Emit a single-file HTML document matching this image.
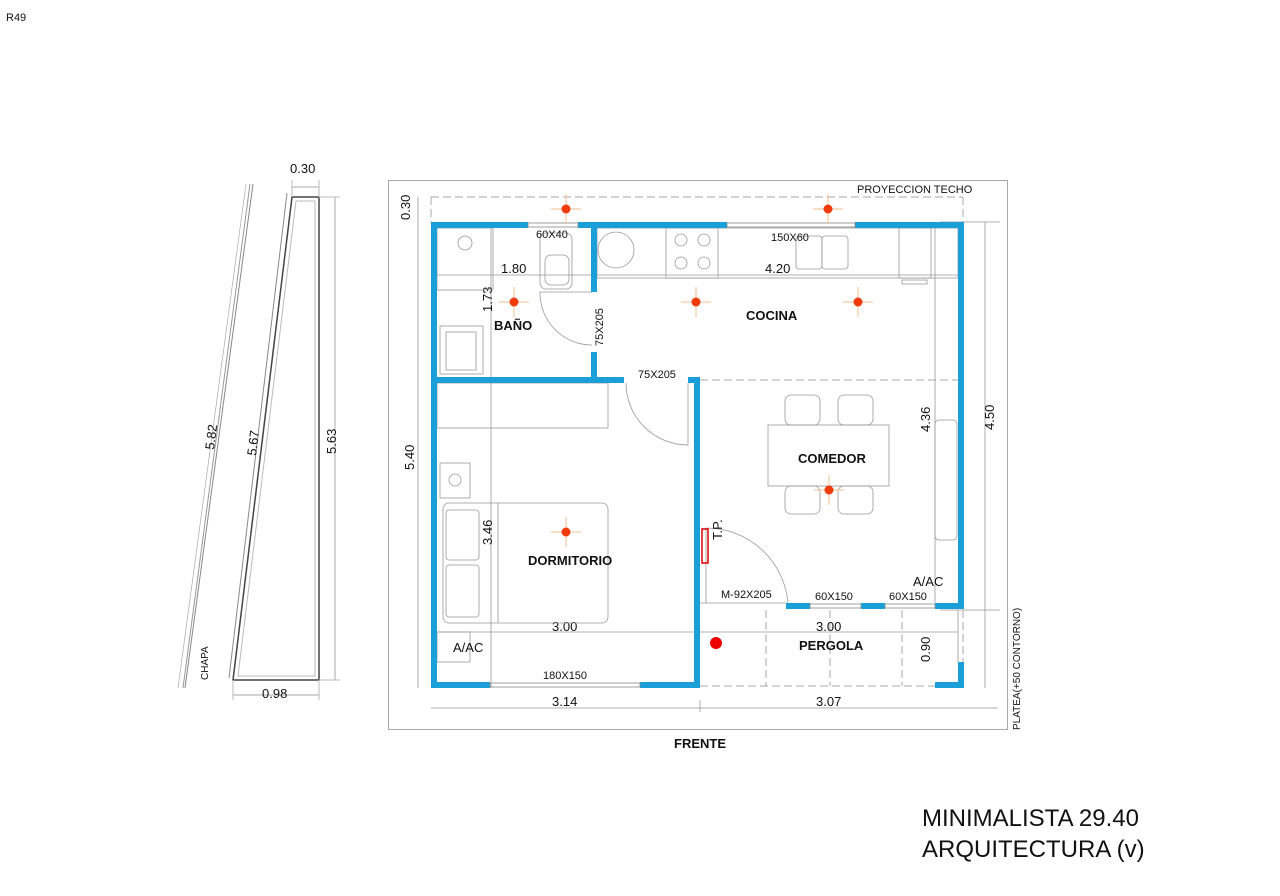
<!DOCTYPE html>
<html><head><meta charset="utf-8"><style>
html,body{margin:0;padding:0;background:#fff;width:1280px;height:896px;overflow:hidden}
svg{display:block}
text{font-family:"Liberation Sans","DejaVu Sans",sans-serif;fill:#111}
.b{font-weight:bold;font-size:13px}
.d{font-size:13px}
.s{font-size:11px}
</style></head><body>
<svg width="1280" height="896" viewBox="0 0 1280 896" xmlns="http://www.w3.org/2000/svg">
<text x="6" y="21" class="s">R49</text>

<!-- left elevation -->
<g stroke="#555" fill="none" stroke-width="1">
<line x1="253" y1="184" x2="185" y2="688" stroke="#888"/>
<line x1="250" y1="184" x2="183" y2="688" stroke="#999"/>
<line x1="246" y1="184" x2="178" y2="688" stroke="#aaa" stroke-width="0.7"/>
<line x1="287" y1="193" x2="229" y2="678" stroke="#888"/>
<polygon points="292,197 319,197 319,680 233,680" stroke="#444" stroke-width="1.5"/>
<polygon points="296,201 315,201 315,676 238,676" stroke="#bbb"/>
<line x1="292" y1="187" x2="319" y2="187" stroke="#aaa"/>
<line x1="292" y1="180" x2="292" y2="197" stroke="#bbb"/>
<line x1="319" y1="180" x2="319" y2="197" stroke="#bbb"/>
<line x1="335" y1="197" x2="335" y2="680" stroke="#aaa"/>
<line x1="319" y1="197" x2="340" y2="197" stroke="#bbb"/>
<line x1="319" y1="680" x2="340" y2="680" stroke="#bbb"/>
<line x1="233" y1="695" x2="319" y2="695" stroke="#aaa"/>
<line x1="233" y1="680" x2="233" y2="700" stroke="#bbb"/>
<line x1="319" y1="680" x2="319" y2="700" stroke="#bbb"/>
</g>
<text x="290" y="173" class="d">0.30</text>
<text x="262" y="698" class="d">0.98</text>
<text class="d" transform="translate(214,450) rotate(-83)">5.82</text>
<text class="d" transform="translate(256,456) rotate(-83)">5.67</text>
<text class="d" transform="translate(336,454) rotate(-90)">5.63</text>
<text style="font-size:10px" transform="translate(208,680) rotate(-90)">CHAPA</text>

<!-- outer frame -->
<rect x="388.5" y="180.5" width="619" height="549" fill="none" stroke="#aaa"/>
<text x="857" y="193" class="s">PROYECCION TECHO</text>
<text x="700" y="748" class="b" text-anchor="middle">FRENTE</text>
<text style="font-size:10px" transform="translate(1020,730) rotate(-90)">PLATEA(+50 CONTORNO)</text>

<!-- dashed roof projection -->
<g stroke="#aaa" fill="none" stroke-dasharray="8,4">
<line x1="431" y1="197" x2="963" y2="197"/>
<line x1="431" y1="197" x2="431" y2="222"/>
<line x1="963" y1="197" x2="963" y2="222"/>
<line x1="700" y1="380" x2="958" y2="380"/>
<line x1="700" y1="686" x2="935" y2="686"/>
<line x1="766" y1="610" x2="766" y2="686"/>
<line x1="830" y1="610" x2="830" y2="686"/>
<line x1="902" y1="610" x2="902" y2="686"/>
<line x1="963" y1="610" x2="963" y2="662"/>
</g>

<!-- dimension lines -->
<g stroke="#999" fill="none" stroke-width="0.8">
<line x1="418" y1="197" x2="418" y2="222"/>
<line x1="418" y1="222" x2="418" y2="688"/>
<line x1="431" y1="708" x2="998" y2="708"/>
<line x1="700" y1="700" x2="700" y2="712"/>
<line x1="985" y1="222" x2="985" y2="688"/>
<line x1="940" y1="222" x2="1000" y2="222"/>
<line x1="935" y1="228" x2="935" y2="603"/>
<line x1="437" y1="275" x2="597" y2="275"/>
<line x1="597" y1="275" x2="958" y2="275"/>
<line x1="491" y1="228" x2="491" y2="688"/>
<line x1="437" y1="632" x2="958" y2="632"/>
<line x1="958" y1="610" x2="958" y2="662"/>
<line x1="940" y1="610" x2="1000" y2="610"/>
</g>
<text class="d" transform="translate(410,220) rotate(-90)">0.30</text>
<text class="d" transform="translate(414,470) rotate(-90)">5.40</text>
<text class="d" transform="translate(994,430) rotate(-90)">4.50</text>
<text class="d" transform="translate(930,432) rotate(-90)">4.36</text>
<text class="d" transform="translate(492,312) rotate(-90)">1.73</text>
<text class="d" transform="translate(492,545) rotate(-90)">3.46</text>
<text class="d" transform="translate(930,662) rotate(-90)">0.90</text>
<text x="501" y="273" class="d">1.80</text>
<text x="765" y="273" class="d">4.20</text>
<text x="552" y="631" class="d">3.00</text>
<text x="816" y="631" class="d">3.00</text>
<text x="552" y="706" class="d">3.14</text>
<text x="816" y="706" class="d">3.07</text>

<!-- furniture -->
<g stroke="#999" fill="none" stroke-width="0.8">
<rect x="437" y="228" width="56" height="62"/>
<circle cx="465" cy="243" r="7"/>
<rect x="440" y="326" width="43" height="48"/>
<rect x="446" y="332" width="30" height="38"/>
<rect x="540" y="233" width="32" height="56" rx="6"/>
<rect x="545" y="255" width="24" height="30" rx="6"/>
<path d="M592 292 L540 292 L540 293 A52 52 0 0 0 592 345"/>
<rect x="597" y="228" width="361" height="50"/>
<circle cx="616" cy="250" r="18"/>
<rect x="666" y="228" width="52" height="50"/>
<circle cx="681" cy="240" r="6"/><circle cx="704" cy="240" r="6"/>
<circle cx="681" cy="263" r="6"/><circle cx="704" cy="263" r="6"/>
<rect x="796" y="236" width="26" height="33" rx="3"/>
<rect x="822" y="236" width="26" height="33" rx="3"/>
<rect x="899" y="228" width="32" height="50"/>
<rect x="902" y="280" width="25" height="4"/>
<path d="M626 383 A62 62 0 0 0 688 445 L688 383"/>
<rect x="437" y="383" width="171" height="45"/>
<rect x="440" y="463" width="30" height="35"/>
<circle cx="455" cy="480" r="6"/>
<rect x="443" y="503" width="165" height="120" rx="6"/>
<line x1="498" y1="503" x2="498" y2="623"/>
<rect x="446" y="510" width="33" height="50" rx="3"/>
<rect x="446" y="565" width="33" height="52" rx="3"/>
<rect x="437" y="632" width="33" height="30"/>
<rect x="768" y="425" width="121" height="61"/>
<rect x="785" y="395" width="35" height="30" rx="6"/>
<rect x="838" y="395" width="35" height="30" rx="6"/>
<rect x="785" y="486" width="35" height="28" rx="6"/>
<rect x="838" y="486" width="35" height="28" rx="6"/>
<rect x="935" y="420" width="22" height="120" rx="4"/>
<path d="M706 528 A82 82 0 0 1 788 603"/>
<line x1="706" y1="528" x2="706" y2="603"/>
<line x1="700" y1="603" x2="786" y2="603"/>
</g>
<rect x="702" y="529" width="6" height="34" fill="none" stroke="#d00" stroke-width="1.5"/>
<text class="d" transform="translate(722,540) rotate(-90)">T.P.</text>

<!-- walls -->
<g fill="#1a9fd8">
<rect x="431" y="222" width="97" height="6"/>
<rect x="578" y="222" width="149" height="6"/>
<rect x="855" y="222" width="109" height="6"/>
<rect x="431" y="222" width="6" height="466"/>
<rect x="958" y="222" width="6" height="387"/>
<rect x="591" y="228" width="6" height="64"/>
<rect x="591" y="352" width="6" height="31"/>
<rect x="431" y="377" width="193" height="6"/>
<rect x="688" y="377" width="12" height="6"/>
<rect x="694" y="377" width="6" height="311"/>
<rect x="431" y="682" width="59" height="6"/>
<rect x="640" y="682" width="60" height="6"/>
<rect x="694" y="603" width="6" height="6"/>
<rect x="786" y="603" width="24" height="6"/>
<rect x="861" y="603" width="24" height="6"/>
<rect x="935" y="603" width="29" height="6"/>
<rect x="958" y="662" width="6" height="26"/>
<rect x="935" y="682" width="29" height="6"/>
</g>
<g fill="none" stroke="#888" stroke-width="0.8">
<rect x="528" y="223" width="50" height="4"/>
<rect x="727" y="223" width="128" height="4"/>
<rect x="490" y="683" width="150" height="4"/>
<rect x="810" y="604" width="51" height="4"/>
<rect x="885" y="604" width="50" height="4"/>
</g>

<!-- lights -->
<g stroke="#f0c090" stroke-width="1">
<path d="M551 209h30M566 194v30M813 209h30M828 194v30M499 302h30M514 287v30M681 302h30M696 287v30M843 302h30M858 287v30M551 532h30M566 517v30M814 490h30M829 475v30"/>
</g>
<g fill="#f03c0c">
<circle cx="566" cy="209" r="4.5"/><circle cx="828" cy="209" r="4.5"/>
<circle cx="514" cy="302" r="4.5"/><circle cx="696" cy="302" r="4.5"/>
<circle cx="858" cy="302" r="4.5"/><circle cx="566" cy="532" r="4.5"/>
<circle cx="829" cy="490" r="4.5"/>
</g>
<circle cx="716" cy="643" r="6" fill="#e00"/>

<!-- labels -->
<text x="494" y="330" class="b">BAÑO</text>
<text x="746" y="320" class="b">COCINA</text>
<text x="798" y="463" class="b">COMEDOR</text>
<text x="528" y="565" class="b">DORMITORIO</text>
<text x="799" y="650" class="b">PERGOLA</text>
<text x="536" y="238" class="s">60X40</text>
<text x="771" y="241" class="s">150X60</text>
<text class="s" transform="translate(603,346) rotate(-90)">75X205</text>
<text x="638" y="378" class="s">75X205</text>
<text x="721" y="598" class="s">M-92X205</text>
<text x="815" y="600" class="s">60X150</text>
<text x="889" y="600" class="s">60X150</text>
<text x="543" y="679" class="s">180X150</text>
<text x="913" y="586" class="d">A/AC</text>
<text x="453" y="652" class="d">A/AC</text>

<text x="922" y="826" style="font-size:24px">MINIMALISTA 29.40</text>
<text x="922" y="857" style="font-size:24px">ARQUITECTURA (v)</text>
</svg>
</body></html>
